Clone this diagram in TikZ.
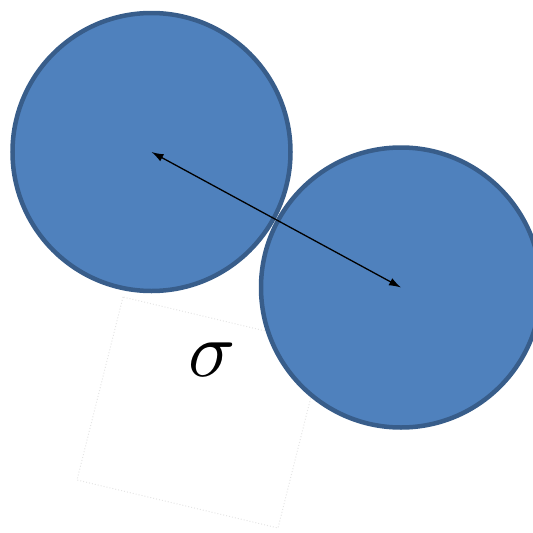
\documentclass[tikz,border=0pt]{standalone}
\usetikzlibrary{arrows.meta}
\definecolor{ballfill}{HTML}{4F81BD}
\definecolor{balledge}{HTML}{385D8A}
\begin{document}
\begin{tikzpicture}[x=1pt,y=-1pt,
  ball/.style={circle,draw=balledge,fill=ballfill,line width=4.5pt,minimum size=278pt,inner sep=0pt},
  boxoutline/.style={draw=black!10,dotted,line width=1pt},
  link/.style={{Latex[length=12pt,width=8pt]}-{Latex[length=12pt,width=8pt]},line width=1.3pt}]
\useasboundingbox (0,0) rectangle (533,533);
\draw[boxoutline] (123,297) -- (77,480) -- (278,528) -- (324,345) -- cycle;
\node[ball] (a) at (151.5,152) {};
\node[ball,minimum size=280pt] (b) at (401,287.5) {};
\coordinate (ca) at (a.center);
\coordinate (cb) at (b.center);
\draw[link] (ca) -- (cb);
\node[scale=7.8,inner sep=0pt] (s) at (212,360) {$\sigma$};
\end{tikzpicture}
\end{document}
